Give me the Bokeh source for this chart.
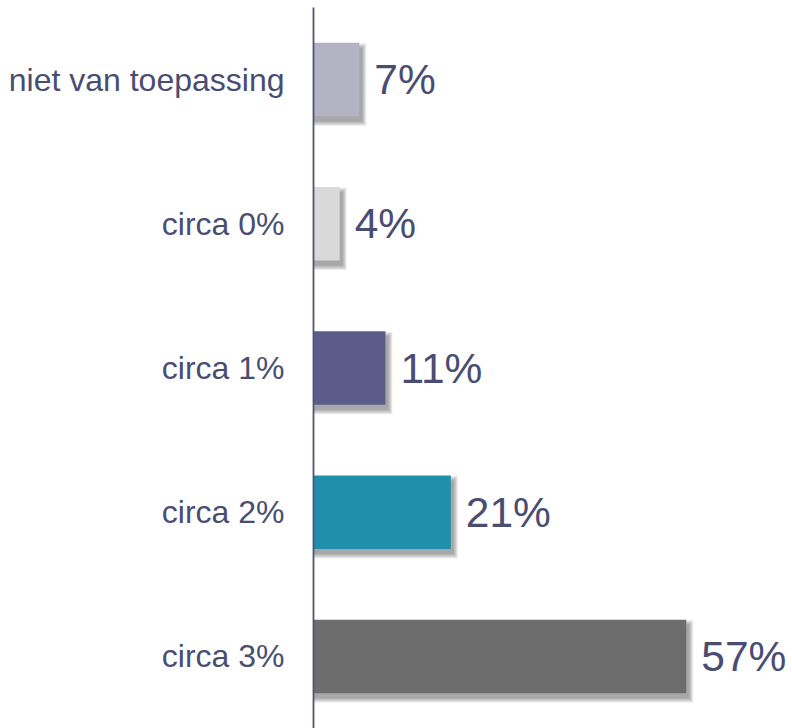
from bokeh.plotting import figure
from bokeh.models import FactorRange, Range1d, ColumnDataSource, LabelSet
from bokeh.transform import dodge
from bokeh.core.properties import value
from bokeh.embed import file_html
from bokeh.resources import INLINE

categories = ["circa 3%", "circa 2%", "circa 1%", "circa 0%", "niet van toepassing"]
percentages = [57, 21, 11, 4, 7]
bar_colors = ["#6d6d6d", "#1f8fab", "#5b5c8a", "#d9d9d9", "#b3b3c4"]
value_labels = [f"{v}%" for v in percentages]

TEXT = "#4a4d72"
FONT = "Liberation Sans"
PX_PER_UNIT = 6.54
FRAME_W = 792 - 313
BAR_H = 0.51

src = ColumnDataSource(dict(cat=categories, val=percentages, color=bar_colors, lab=value_labels))

p = figure(width=792, height=728, output_backend="svg", toolbar_location=None,
           y_range=FactorRange(factors=categories, range_padding=0),
           x_range=Range1d(0, FRAME_W / PX_PER_UNIT),
           min_border_left=313, min_border_right=0, min_border_top=7, min_border_bottom=0)
p.outline_line_color = None
p.xgrid.visible = False
p.ygrid.visible = False
p.xaxis.visible = False
p.background_fill_color = "white"
p.border_fill_color = "white"

# soft drop shadow (layers)
for s in [5, 4, 3, 2, 1, 0]:
    p.hbar(y=dodge("cat", -5 / 144, range=p.y_range), left=0,
           right=dodge("val", (3 + s * 0.8) / PX_PER_UNIT),
           height=BAR_H + (s * 1.8) / 144, source=src,
           fill_color="black", fill_alpha=0.065, line_color=None)

p.hbar(y="cat", left=0, right="val", height=BAR_H, source=src,
       fill_color="color", line_color=None)

labels = LabelSet(x="val", y="cat", text="lab", source=src, x_offset=15, y_offset=0,
                  text_font=value(FONT), text_font_size="42.5px", text_color=TEXT,
                  text_baseline="middle", text_align="left")
p.add_layout(labels)

ax = p.yaxis[0]
ax.axis_line_color = "#50537a"
ax.axis_line_width = 1.8
ax.major_tick_line_color = None
ax.minor_tick_line_color = None
ax.major_tick_out = 0
ax.major_tick_in = 0
ax.major_label_standoff = 29
ax.major_label_text_font = FONT
ax.major_label_text_font_size = "32px"
ax.major_label_text_color = TEXT

open("out.html", "w").write(file_html(p, INLINE))
